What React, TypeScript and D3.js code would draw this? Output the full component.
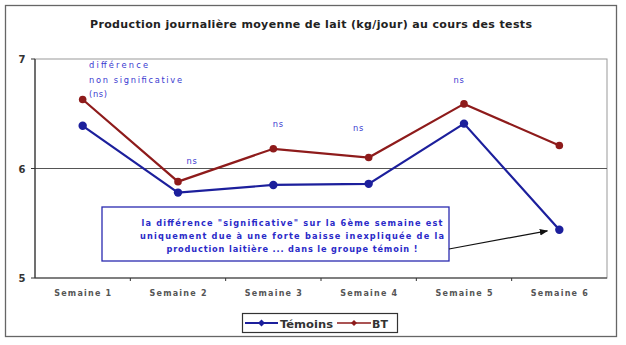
import React from "react";
import * as d3 from "d3";

const categories = ["Semaine 1", "Semaine 2", "Semaine 3", "Semaine 4", "Semaine 5", "Semaine 6"];
const temoins = [6.39, 5.78, 5.85, 5.86, 6.41, 5.44];
const bt = [6.63, 5.88, 6.18, 6.1, 6.59, 6.21];
const yTicks = [5, 6, 7];
const nsLabels = [
  { i: 1, v: 6.07, dx: 14 },
  { i: 2, v: 6.41, dx: 5 },
  { i: 3, v: 6.37, dx: -10 },
  { i: 4, v: 6.81, dx: -5 },
];
const noteLines = [
  'la différence "significative" sur la 6ème semaine est',
  "uniquement due à une forte baisse inexpliquée de la",
  "production laitière ... dans le groupe témoin !",
];
const nsIntro = ["différence", "non significative", "(ns)"];

const W = 626, H = 345;
const m = { l: 35, r: 607, t: 59, b: 278 };
const BLUE = "#1c1f9c";
const RED = "#8e1b1b";
const FONT = "'DejaVu Sans', Verdana, sans-serif";

export default function App() {
  const x = d3.scaleBand<string>().domain(categories).range([m.l, m.r]);
  const y = d3.scaleLinear().domain([5, 7]).range([m.b, m.t]);
  const cx = (c: string) => (x(c) as number) + x.bandwidth() / 2;
  const line = d3
    .line<number>()
    .x((_, i) => cx(categories[i]))
    .y((d) => y(d));

  const series = [
    { name: "Témoins", data: temoins, color: BLUE, r: 4.2 },
    { name: "BT", data: bt, color: RED, r: 3.8 },
  ];

  const boxX = 102, boxY = 207, boxW = 347, boxH = 54;
  const arrowEnd: [number, number] = [cx(categories[5]) - 12, y(temoins[5]) + 1];

  return (
    <svg width={W} height={H} style={{ position: "absolute", left: 0, top: 0 }} fontFamily={FONT}>
      <defs>
        <marker id="ah" viewBox="0 0 10 10" refX="9" refY="5" markerWidth="7" markerHeight="7" orient="auto">
          <path d="M0,1 L10,5 L0,9 z" fill="#111" />
        </marker>
      </defs>
      <rect x={0} y={0} width={W} height={H} fill="#fff" />
      <rect x={5.5} y={5.5} width={611} height={331} fill="#fff" stroke="#666" strokeWidth={1.3} />
      <text x={311} y={28} textAnchor="middle" fontSize={11} fontWeight="bold" fill="#222" textLength={442} lengthAdjust="spacing">
        Production journalière moyenne de lait (kg/jour) au cours des tests
      </text>
      <rect x={m.l} y={m.t} width={m.r - m.l} height={m.b - m.t} fill="#fff" stroke="#999" strokeWidth={1} />
      <line x1={m.l} x2={m.r} y1={y(6)} y2={y(6)} stroke="#555" strokeWidth={1} />
      <line x1={m.l} x2={m.l} y1={m.t} y2={m.b} stroke="#333" strokeWidth={1.2} />
      <line x1={m.l} x2={m.r} y1={m.b} y2={m.b} stroke="#333" strokeWidth={1.2} />
      {yTicks.map((t) => (
        <g key={t}>
          <line x1={m.l - 4} x2={m.l} y1={y(t)} y2={y(t)} stroke="#333" />
          <text x={22} y={y(t) + 4} textAnchor="middle" fontSize={10} fontWeight="bold" fill="#333">
            {t}
          </text>
        </g>
      ))}
      {categories.map((c, i) => (
        <g key={c}>
          {i > 0 && <line x1={x(c) as number} x2={x(c) as number} y1={m.b} y2={m.b + 3} stroke="#333" />}
          <text x={cx(c)} y={m.b + 18} textAnchor="middle" fontSize={8} fontWeight="bold" fill="#555" textLength={57} lengthAdjust="spacing">
            {c}
          </text>
        </g>
      ))}
      {series.map((s) => (
        <g key={s.name}>
          <path d={line(s.data) as string} fill="none" stroke={s.color} strokeWidth={2.2} />
          {s.data.map((v, i) => (
            <circle key={i} cx={cx(categories[i])} cy={y(v)} r={s.r} fill={s.color} />
          ))}
        </g>
      ))}
      <g fill="#3a3ad0" fontSize={8.3}>
        {nsIntro.map((t, k) => (
          <text key={k} x={89} y={68 + k * 14.5} textLength={[59, 93, 18][k]} lengthAdjust="spacing">
            {t}
          </text>
        ))}
        {nsLabels.map((n) => (
          <text key={n.i} x={cx(categories[n.i]) + n.dx} y={y(n.v) + 3} textAnchor="middle" letterSpacing={0.8}>
            ns
          </text>
        ))}
      </g>
      <rect x={boxX} y={boxY} width={boxW} height={boxH} fill="#fff" stroke="#2a2ab0" strokeWidth={1.3} />
      <g fill="#2a2ac8" fontSize={8.2} textAnchor="middle">
        {noteLines.map((t, k) => (
          <text key={k} x={292} y={boxY + 19 + k * 13} textLength={[301, 304, 251][k]} lengthAdjust="spacing" fontWeight="bold">
            {t}
          </text>
        ))}
      </g>
      <line x1={boxX + boxW} y1={boxY + 42} x2={arrowEnd[0]} y2={arrowEnd[1]} stroke="#111" strokeWidth={1.2} markerEnd="url(#ah)" />
      <rect x={242.5} y={313.5} width={155} height={19} fill="#fff" stroke="#333" strokeWidth={1.2} />
      <g>
        <line x1={245} x2={278} y1={323} y2={323} stroke={BLUE} strokeWidth={2} />
        <path d="M261.5,319.5 L265,323 L261.5,326.5 L258,323 Z" fill={BLUE} />
        <text x={280} y={327.5} fontSize={11} fontWeight="bold" fill="#333" textLength={53} lengthAdjust="spacingAndGlyphs">Témoins</text>
        <line x1={337} x2={371} y1={323} y2={323} stroke={RED} strokeWidth={1.6} />
        <path d="M354,320 L357,323 L354,326 L351,323 Z" fill={RED} />
        <text x={372} y={327.5} fontSize={11} fontWeight="bold" fill="#333">BT</text>
      </g>
    </svg>
  );
}
